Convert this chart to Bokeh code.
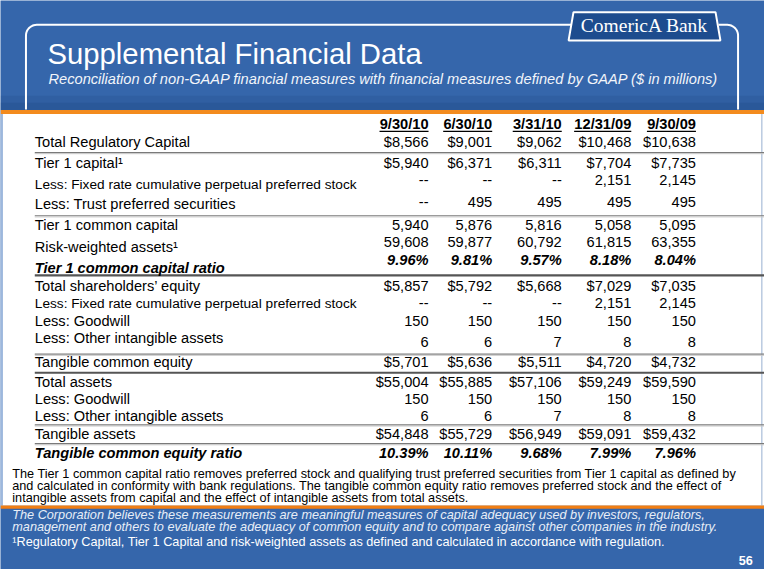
import numpy as np
from bokeh.plotting import figure
from bokeh.models import Range1d, ColumnDataSource
from bokeh.core.properties import value
from bokeh.embed import file_html
from bokeh.resources import INLINE

# ---------------- data ----------------
title = "Supplemental Financial Data"
subtitle = "Reconciliation of non-GAAP financial measures with financial measures defined by GAAP ($ in millions)"
periods = ["9/30/10", "6/30/10", "3/31/10", "12/31/09", "9/30/09"]
row_labels = [
    "Total Regulatory Capital",
    "Tier 1 capital\u00b9",
    "Less: Fixed rate cumulative perpetual preferred stock",
    "Less: Trust preferred securities",
    "Tier 1 common capital",
    "Risk-weighted assets\u00b9",
    "Tier 1 common capital ratio",
    "Total shareholders\u2019 equity",
    "Less: Fixed rate cumulative perpetual preferred stock",
    "Less: Goodwill",
    "Less: Other intangible assets",
    "Tangible common equity",
    "Total assets",
    "Less: Goodwill",
    "Less: Other intangible assets",
    "Tangible assets",
    "Tangible common equity ratio",
]
v_9_30_10 = [8566, 5940, None, None, 5940, 59608, 9.96, 5857, None, 150, 6, 5701, 55004, 150, 6, 54848, 10.39]
v_6_30_10 = [9001, 6371, None, 495, 5876, 59877, 9.81, 5792, None, 150, 6, 5636, 55885, 150, 6, 55729, 10.11]
v_3_31_10 = [9062, 6311, None, 495, 5816, 60792, 9.57, 5668, None, 150, 7, 5511, 57106, 150, 7, 56949, 9.68]
v_12_31_09 = [10468, 7704, 2151, 495, 5058, 61815, 8.18, 7029, 2151, 150, 8, 4720, 59249, 150, 8, 59091, 7.99]
v_9_30_09 = [10638, 7735, 2145, 495, 5095, 63355, 8.04, 7035, 2145, 150, 8, 4732, 59590, 150, 8, 59432, 7.96]
row_kind = ["dollar", "dollar", "plain", "plain", "plain", "plain", "pct",
            "dollar", "plain", "plain", "plain", "dollar", "dollar", "plain", "plain", "dollar", "pct"]
note_lines = [
    "The Tier 1 common capital ratio removes preferred stock and qualifying trust preferred securities from Tier 1 capital as defined by",
    "and calculated in conformity with bank regulations.  The tangible common equity ratio removes preferred stock and the effect of",
    "intangible assets from capital and the effect of intangible assets from total assets.",
]
blue_notes = [
    "The Corporation believes these measurements are meaningful measures of capital adequacy used by investors, regulators,",
    "management and others to evaluate the adequacy of common equity and to compare against other companies in the industry.",
]
footnote = "\u00b9Regulatory Capital, Tier 1 Capital and risk-weighted assets as defined and calculated in accordance with regulation."
page_no = "56"
logo_text = "ComericA Bank"

# ---------------- layout ----------------
W, H = 764, 569
S = (W / 780 + H / 585) / 2          # scale of the slide onto the figure
K = 0.33                             # baseline correction (em)
FONT = value("Liberation Sans")
BLUE = "#3566AB"
ORANGE = "#F38B1E"


def fs(px):
    return "%.2fpx" % (px * S)


def base(y, px):
    return y - K * px


col_right = [437, 502, 573, 644, 710]
label_x = 35
label_y = [145, 166.7, 188.3, 209.3, 230.7, 252.7, 274.3, 292.7, 310.7, 329.3, 346.7,
           371.7, 391.7, 409.3, 426.7, 445.7, 465]
value_y = [145, 166.7, 184, 206.7, 230, 248.3, 266.7, 292.7, 310.7, 329.3, 350.7,
           371.7, 391.7, 409.3, 426.7, 445.7, 465]
sep_y = [156.7, 221.7, 282.7, 364, 382.7, 436.7, 456]
sep_thick = [False, False, True, False, True, False, False]

p = figure(width=W, height=H, x_range=Range1d(0, 780), y_range=Range1d(585, 0),
           output_backend="svg", toolbar_location=None, x_axis_type=None, y_axis_type=None,
           min_border=0, min_border_left=0, min_border_right=0, min_border_top=0,
           min_border_bottom=0)
p.grid.visible = False
p.outline_line_color = None
p.background_fill_color = BLUE
p.border_fill_color = BLUE

# shading above the orange band
p.quad(left=0, right=780, top=98, bottom=112.5, fill_color="#1f4a85", fill_alpha=0.22, line_color=None)
p.quad(left=0, right=780, top=105, bottom=112.5, fill_color="#1f4a85", fill_alpha=0.3, line_color=None)
# white panel and orange bands
p.quad(left=0, right=780, top=112.5, bottom=519.5, fill_color="white", line_color=None)
p.quad(left=0, right=2.5, top=116, bottom=519.5, fill_color="#9DB8DD", line_color=None)
p.quad(left=776.5, right=778, top=116, bottom=519.5, fill_color="#B9C9DF", line_color=None)
p.quad(left=0, right=780, top=112.5, bottom=116.8, fill_color=ORANGE, line_color=None)
p.quad(left=0, right=780, top=519.3, bottom=522.6, fill_color="#F07E14", line_color=None)

# rounded outline frame
r = 11
t1 = np.linspace(np.pi, 1.5 * np.pi, 12)
lx = [26] + list(26 + r + r * np.cos(t1)) + [583]
ly = [112] + list(25 + r + r * np.sin(t1)) + [25]
p.line(lx, ly, line_color="white", line_width=2)
t2 = np.linspace(1.5 * np.pi, 2 * np.pi, 12)
rx = [733] + list(753 - r + r * np.cos(t2)) + [753]
ry = [25] + list(25 + r + r * np.sin(t2)) + [112]
p.line(rx, ry, line_color="white", line_width=2)

# logo
p.patch([585, 730, 735, 580], [12, 12, 41, 41], fill_color="#1D4C8E", line_color="white", line_width=2)
p.text(x=[657.5], y=[base(32.5, 20)], text=[logo_text], text_font=value("Liberation Serif"),
       text_font_size=fs(20), text_color="white", text_align="center", text_baseline="alphabetic")

# title and subtitle
p.text(x=[48], y=[base(64, 30)], text=[title], text_font=FONT, text_font_size=fs(30),
       text_color="white", text_baseline="alphabetic")
p.text(x=[49], y=[base(86, 15)], text=[subtitle], text_font=FONT, text_font_size=fs(15),
       text_font_style="italic", text_color="#F2F5FA", text_baseline="alphabetic")

# separators
for y, thick in zip(sep_y, sep_thick):
    if thick:
        p.line([35, 780], [y, y], line_color="#555555", line_width=2.2)
    else:
        p.line([35, 780], [y - 0.4, y - 0.4], line_color="#7a7a7a", line_width=1.2)
        p.line([35, 780], [y + 0.8, y + 0.8], line_color="#c8c8c8", line_width=1)

# headers (bold, underlined)
hw = {"/": 0.278}
p.text(x=col_right, y=[base(132, 15)] * 5, text=periods, text_font=FONT, text_font_size=fs(15),
       text_font_style="bold", text_align="right", text_baseline="alphabetic", text_color="black")
for xr, per in zip(col_right, periods):
    w = sum(hw.get(c, 0.556) for c in per) * 15
    p.line([xr - w, xr], [134.6, 134.6], line_color="black", line_width=1.3)


def fmt(v, kind):
    if v is None:
        return "--"
    if kind == "dollar":
        return "${:,}".format(v)
    if kind == "pct":
        return "{:.2f}%".format(v)
    return "{:,}".format(v)


# row labels
lab = {"x": [], "y": [], "t": [], "size": [], "style": []}
for lbl, y, kind in zip(row_labels, label_y, row_kind):
    size = 14 if lbl.startswith("Less: Fixed") else 15
    lab["x"].append(label_x)
    lab["y"].append(base(y + 0.357 * size, size))
    lab["t"].append(lbl)
    lab["size"].append(fs(size))
    lab["style"].append("bold italic" if kind == "pct" else "normal")
p.text(x="x", y="y", text="t", source=ColumnDataSource(lab), text_font=FONT,
       text_font_size="size", text_font_style="style", text_color="black", text_baseline="alphabetic")

# values
cols = [v_9_30_10, v_6_30_10, v_3_31_10, v_12_31_09, v_9_30_09]
val = {"x": [], "y": [], "t": [], "style": []}
for xr, col in zip(col_right, cols):
    for v, y, kind in zip(col, value_y, row_kind):
        val["x"].append(xr)
        val["y"].append(base(y + 5.35, 15))
        val["t"].append(fmt(v, kind))
        val["style"].append("bold italic" if kind == "pct" else "normal")
p.text(x="x", y="y", text="t", source=ColumnDataSource(val), text_font=FONT,
       text_font_size=fs(15), text_font_style="style", text_color="black",
       text_align="right", text_baseline="alphabetic")

# notes in white panel
p.text(x=[12] * 3, y=[base(b, 13) for b in (490.7, 503.2, 515.7)], text=note_lines, text_font=FONT,
       text_font_size=fs(13), text_color="black", text_baseline="alphabetic")
# notes in blue area
p.text(x=[12] * 2, y=[base(b, 13) for b in (533, 545.3)], text=blue_notes, text_font=FONT,
       text_font_size=fs(13), text_font_style="italic", text_color="#E8EEF7", text_baseline="alphabetic")
p.text(x=[12], y=[base(560.7, 13)], text=[footnote], text_font=FONT, text_font_size=fs(13),
       text_color="white", text_baseline="alphabetic")
p.text(x=[768], y=[base(580, 13)], text=[page_no], text_font=FONT, text_font_size=fs(13),
       text_font_style="bold", text_color="white", text_align="right", text_baseline="alphabetic")

open("out.html", "w").write(file_html(p, INLINE))
